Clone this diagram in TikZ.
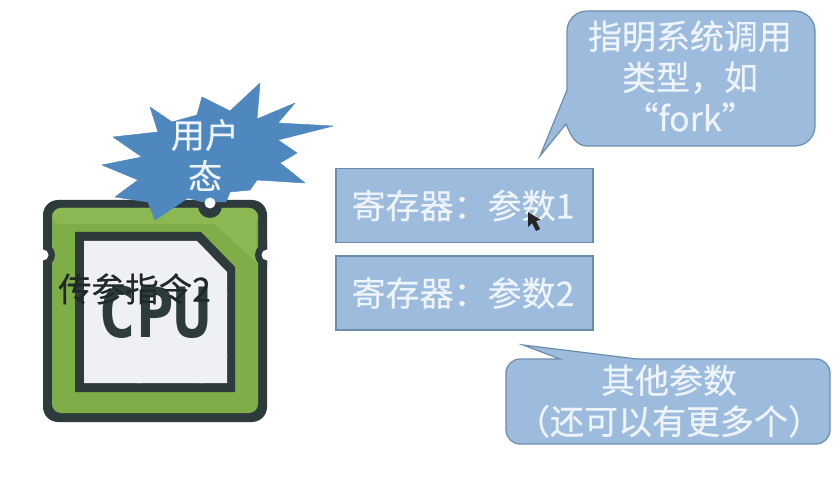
\documentclass[tikz,border=0pt]{standalone}
\usepackage{fontspec}
\setmainfont[FakeBold=0.4]{Noto Sans CJK SC}
\newfontfamily\cpufont{DejaVu Sans Mono}
\definecolor{bluefill}{HTML}{9DBBDC}
\definecolor{blueedge}{HTML}{6B8DAB}
\definecolor{starblue}{HTML}{4F88BF}
\definecolor{cpudark}{HTML}{2D3B3C}
\definecolor{cpugreen}{HTML}{7FAE48}
\definecolor{cpulight}{HTML}{8BB852}
\definecolor{chipwhite}{HTML}{EEF0F4}
\definecolor{softwhite}{HTML}{EDF4FB}
\tikzset{
  panel/.style={draw=blueedge,fill=bluefill,line width=1.4pt},
  regbox/.style={panel,minimum width=257pt,minimum height=74pt,inner sep=0pt,text=softwhite,font=\fontsize{34}{38}\selectfont},
  notetext/.style={text=softwhite,align=center,inner sep=0pt,font=\fontsize{34}{41}\selectfont},
}
\begin{document}
\begin{tikzpicture}[x=1pt,y=-1pt]
\useasboundingbox[fill=white] (0,0) rectangle (838,478);
% CPU body
\fill[cpudark,rounded corners=15pt] (43,200) rectangle (267,422);
\fill[cpugreen,rounded corners=9pt] (52,208) rectangle (258,413);
\fill[cpulight,rounded corners=9pt] (52,208) -- (258,208) -- (258,224) -- (52,224) -- cycle;
\fill[cpulight] (212,222) -- (256,222) -- (256,262) -- cycle;
\fill[cpudark] (75,232) -- (201,232) -- (235,267) -- (235,392) -- (75,392) -- cycle;
\begin{scope}
\clip (84,241) -- (197,241) -- (227,272) -- (227,383) -- (84,383) -- cycle;
\fill[chipwhite] (70,230) rectangle (240,395);
\foreach \d in {0,62,...,310}
  \draw[white!88!gray,line width=3pt] (60+\d,400) -- (60+\d+170,230);
\end{scope}
\begin{scope}
\clip (43,200) rectangle (267,422);
\fill[cpudark] (43,255) circle (12pt);
\fill[cpudark] (267,255) circle (12pt);
\end{scope}
\fill[white] (43,255) circle (5.5pt);
\fill[white] (267,255) circle (5.5pt);
\fill[cpudark] (210,206) circle (12pt);
\node[font=\cpufont\bfseries\fontsize{66}{66}\selectfont,text=cpudark,inner sep=0pt,xscale=.95,yscale=1.05] (cpulabel) at (155,312) {CPU};
% burst
\draw[fill=starblue,draw=starblue,line width=.5pt,line join=round]
 (150,107) -- (172,122) -- (197,115) -- (202,97) -- (230,111) -- (260,83)
 -- (257,119) -- (295,103) -- (278,123) -- (333,126) -- (278,140) -- (297,153)
 -- (280,163) -- (305,183) -- (257,180) -- (250,190) -- (230,192) -- (226,202)
 -- (203,202) -- (188,198) -- (155,220) -- (148,202) -- (115,197) -- (138,180)
 -- (102,165) -- (142,157) -- (113,137) -- (158,132) -- cycle;
\fill[white] (210,203) circle (5.5pt);
\node[notetext] (burst) at (205,155) {用户\\态};
\node[inner sep=0pt,text=cpudark!70!black,font=\fontsize{33.5}{36}\selectfont,anchor=west] (instr) at (58,289) {传参指令2};
% registers
\node[regbox] (reg1) at (464.5,205.5) {寄存器^^^^ff1a参数1\kern3pt};
\node[regbox] (reg2) at (464.5,293) {寄存器^^^^ff1a参数2\kern3pt};
% mouse pointer
\fill[black!85] (528,212) -- (528,227) -- (532,223) -- (536,231) -- (540,229) -- (536,221) -- (541,220) -- cycle;
% callouts
\draw[panel,line width=1.2pt]
  (567,90) -- (567,31) .. controls (567,20) and (576,11) .. (587,11)
  -- (795,11) .. controls (806,11) and (815,20) .. (815,31)
  -- (815,126) .. controls (815,137) and (806,146) .. (795,146)
  -- (587,146) .. controls (577,146) and (571,137) .. (566,124)
  -- (540,156) -- cycle;
\node[notetext] (typenote) at (690,76) {指明系统调用\\类型^^^^ff0c如\\“fork”};
\draw[panel,line width=1.2pt,rounded corners=14pt]
  (506,385) -- (506,359) -- (540,359)
  [sharp corners] -- (560,359) -- (523,345) -- (637,359) -- (660,359)
  [rounded corners=14pt] -- (830,359) -- (830,444) -- (506,444) -- cycle;
\node[notetext] (othernote) at (669,401) {其他参数\\^^^^ff08还可以有更多个^^^^ff09};
\end{tikzpicture}
\end{document}
